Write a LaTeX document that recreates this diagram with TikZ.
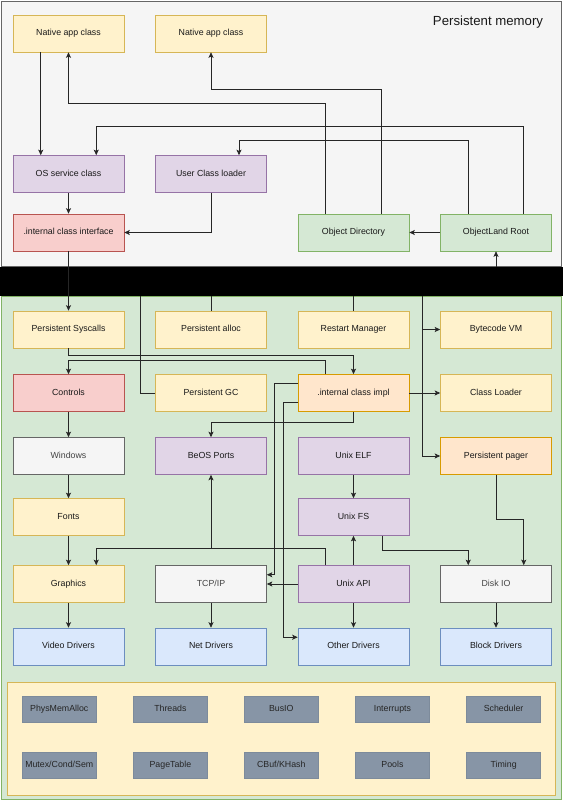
\documentclass[tikz,border=0pt]{standalone}
\usepackage{fontspec}
\setmainfont{Liberation Sans}
\usetikzlibrary{arrows.meta}
\definecolor{yfill}{HTML}{FFF2CC}\definecolor{ydraw}{HTML}{D6B656}
\definecolor{pfill}{HTML}{E1D5E7}\definecolor{pdraw}{HTML}{9673A6}
\definecolor{rfill}{HTML}{F8CECC}\definecolor{rdraw}{HTML}{B85450}
\definecolor{gfill}{HTML}{D5E8D4}\definecolor{gdraw}{HTML}{82B366}
\definecolor{ofill}{HTML}{FFE6CC}\definecolor{odraw}{HTML}{D79B00}
\definecolor{bfill}{HTML}{DAE8FC}\definecolor{bdraw}{HTML}{6C8EBF}
\definecolor{wfill}{HTML}{F5F5F5}\definecolor{wdraw}{HTML}{666666}
\definecolor{wtext}{HTML}{444444}
\definecolor{sfill}{HTML}{8795A6}\definecolor{sdraw}{HTML}{7D8B9B}
\begin{document}
\begin{tikzpicture}[x=1pt,y=-1pt,
  box/.style={draw,line width=0.6pt,minimum width=111pt,minimum height=37pt,inner sep=1pt,
    text height=6.6pt,text depth=1.9pt,
    font=\fontsize{8.8}{10}\selectfont,text=black!90},
  ybox/.style={box,fill=yfill,draw=ydraw},
  pbox/.style={box,fill=pfill,draw=pdraw},
  rbox/.style={box,fill=rfill,draw=rdraw},
  gbox/.style={box,fill=gfill,draw=gdraw},
  obox/.style={box,fill=ofill,draw=odraw},
  bbox/.style={box,fill=bfill,draw=bdraw},
  wbox/.style={box,fill=wfill,draw=wdraw,text=wtext},
  sbox/.style={draw=sdraw,fill=sfill,line width=0.5pt,minimum width=74pt,minimum height=26pt,inner sep=1pt,
    text height=6.6pt,text depth=1.9pt,
    font=\fontsize{8.8}{10}\selectfont,text=black!85},
  con/.style={line width=0.75pt,draw=black!85},
  arr/.style={con,-{Stealth[length=5.5pt,width=5pt,inset=1.2pt]}}]
\useasboundingbox (0,0) rectangle (563,800);
% containers
\node[draw=wdraw,fill=wfill,line width=0.7pt,minimum width=560pt,minimum height=265pt,inner sep=0pt] (top) at (281,133.5) {};
\node[font=\fontsize{13.2}{15}\selectfont,text=black!90] (ptitle) at (488,22.5) {Persistent memory};
\node[draw=gdraw,fill=gfill,line width=0.7pt,minimum width=560pt,minimum height=503pt,inner sep=0pt] (green) at (281,547.5) {};
\node[fill=black,minimum width=563pt,minimum height=29pt,inner sep=0pt] (band) at (281.5,281.5) {};
\node[draw=ydraw,fill=yfill,line width=0.7pt,minimum width=547.5pt,minimum height=113pt,inner sep=0pt] (core) at (281.25,738.5) {};
% top nodes
\node[ybox] (native1) at (68.5,33.5) {Native app class};
\node[ybox] (native2) at (211,33.5) {Native app class};
\node[pbox] (os) at (68.5,174) {OS service class};
\node[pbox] (ucl) at (211,174) {User Class loader};
\node[rbox] (iface) at (68.5,232.5) {.internal class interface};
\node[gbox] (objdir) at (353.5,232.5) {Object Directory};
\node[gbox] (root) at (496,232.5) {ObjectLand Root};
% green nodes
\node[ybox] (sys) at (68.5,329.5) {Persistent Syscalls};
\node[ybox] (alloc) at (211,329.5) {Persistent alloc};
\node[ybox] (restart) at (353.5,329.5) {Restart Manager};
\node[ybox] (vm) at (496,329.5) {Bytecode VM};
\node[rbox] (controls) at (68.5,393) {Controls};
\node[ybox] (gc) at (211,393) {Persistent GC};
\node[obox] (impl) at (353.5,393) {.internal class impl};
\node[ybox] (cloader) at (496,393) {Class Loader};
\node[wbox] (windows) at (68.5,456) {Windows};
\node[pbox] (beos) at (211,456) {BeOS Ports};
\node[pbox] (elf) at (353.5,456) {Unix ELF};
\node[obox] (pager) at (496,456) {Persistent pager};
\node[ybox] (fonts) at (68.5,517) {Fonts};
\node[pbox] (ufs) at (353.5,517) {Unix FS};
\node[ybox] (graphics) at (68.5,584) {Graphics};
\node[wbox] (tcp) at (211,584) {TCP/IP};
\node[pbox] (uapi) at (353.5,584) {Unix API};
\node[wbox] (disk) at (496,584) {Disk IO};
\node[bbox] (video) at (68.5,646.5) {Video Drivers};
\node[bbox] (net) at (211,646.5) {Net Drivers};
\node[bbox] (other) at (353.5,646.5) {Other Drivers};
\node[bbox] (block) at (496,646.5) {Block Drivers};
% core boxes
\node[sbox] (k1) at (59.25,709) {PhysMemAlloc};
\node[sbox] (k2) at (170.4,709) {Threads};
\node[sbox] (k3) at (281.3,709) {BusIO};
\node[sbox] (k4) at (392.45,709) {Interrupts};
\node[sbox] (k5) at (503.6,709) {Scheduler};
\node[sbox] (k6) at (59.25,765.5) {Mutex/Cond/Sem};
\node[sbox] (k7) at (170.4,765.5) {PageTable};
\node[sbox] (k8) at (281.3,765.5) {CBuf/KHash};
\node[sbox] (k9) at (392.45,765.5) {Pools};
\node[sbox] (k10) at (503.6,765.5) {Timing};
% band taps
\coordinate (tgc) at (140,296);
\coordinate (tvm) at (422,296);
% top connectors
\draw[arr] ([xshift=-27.75pt]native1.south) -- ([xshift=-27.75pt]os.north);
\draw[arr] ([xshift=-27.75pt]objdir.north) |- (68.5,103) -- (native1.south);
\draw[arr] ([xshift=27.75pt]objdir.north) |- (211,89) -- (native2.south);
\draw[arr] ([xshift=27.75pt]root.north) |- (96.25,126) -- ([xshift=27.75pt]os.north);
\draw[arr] ([xshift=-27.75pt]root.north) |- (239,140) -- ([xshift=28pt]ucl.north);
\draw[arr] (os.south) -- (iface.north);
\draw[arr] (ucl.south) |- (iface.east);
\draw[arr] (root.west) -- (objdir.east);
\draw[arr] (iface.south) -- (sys.north);
\draw[arr] (root.south |- band.north) -- (root.south);
% green connectors
\draw[con] (tgc) |- (gc.west);
\draw[con] (alloc.north |- band.south) -- (alloc.north);
\draw[con] (restart.north |- band.south) -- (restart.north);
\draw[arr] (tvm) |- (pager.west);
\draw[arr] (tvm |- vm.west) -- (vm.west);
\draw[arr] (impl.east) -- (cloader.west);
\draw[arr] (sys.south) |- (353.5,355.3) -- (impl.north);
\draw[arr] ([xshift=-27.75pt]impl.north) |- (68.5,360) -- (controls.north);
\draw[arr] (controls.south) -- (windows.north);
\draw[arr] (impl.south) |- (211,422.3) -- (beos.north);
\draw[arr] ([yshift=9.25pt]impl.west) -- ++(-23.3,0) |- ([yshift=9.25pt]tcp.east);
\draw[arr] ([yshift=-9.25pt]impl.west) -- ++(-14.3,0) |- ([yshift=9.25pt]other.west);
\draw[arr] (windows.south) -- (fonts.north);
\draw[arr] (fonts.south) -- (graphics.north);
\draw[arr] (graphics.south) -- (video.north);
\draw[arr] ([xshift=-27.75pt]uapi.north) |- (96.25,548.3) -- ([xshift=27.75pt]graphics.north);
\draw[arr] ([xshift=-27.75pt]uapi.north) |- (211,548.3) -- (beos.south);
\draw[arr] (elf.south) -- (ufs.north);
\draw[arr] (uapi.north) -- (ufs.south);
\draw[arr] ([xshift=28.75pt]ufs.south) |- (468.25,550.3) -- ([xshift=-27.75pt]disk.north);
\draw[arr] (pager.south) |- (523.75,519.3) -- ([xshift=27.75pt]disk.north);
\draw[arr] (uapi.west) -- (tcp.east);
\draw[arr] (uapi.south) -- (other.north);
\draw[arr] (tcp.south) -- (net.north);
\draw[arr] (disk.south) -- (block.north);
\end{tikzpicture}
\end{document}
